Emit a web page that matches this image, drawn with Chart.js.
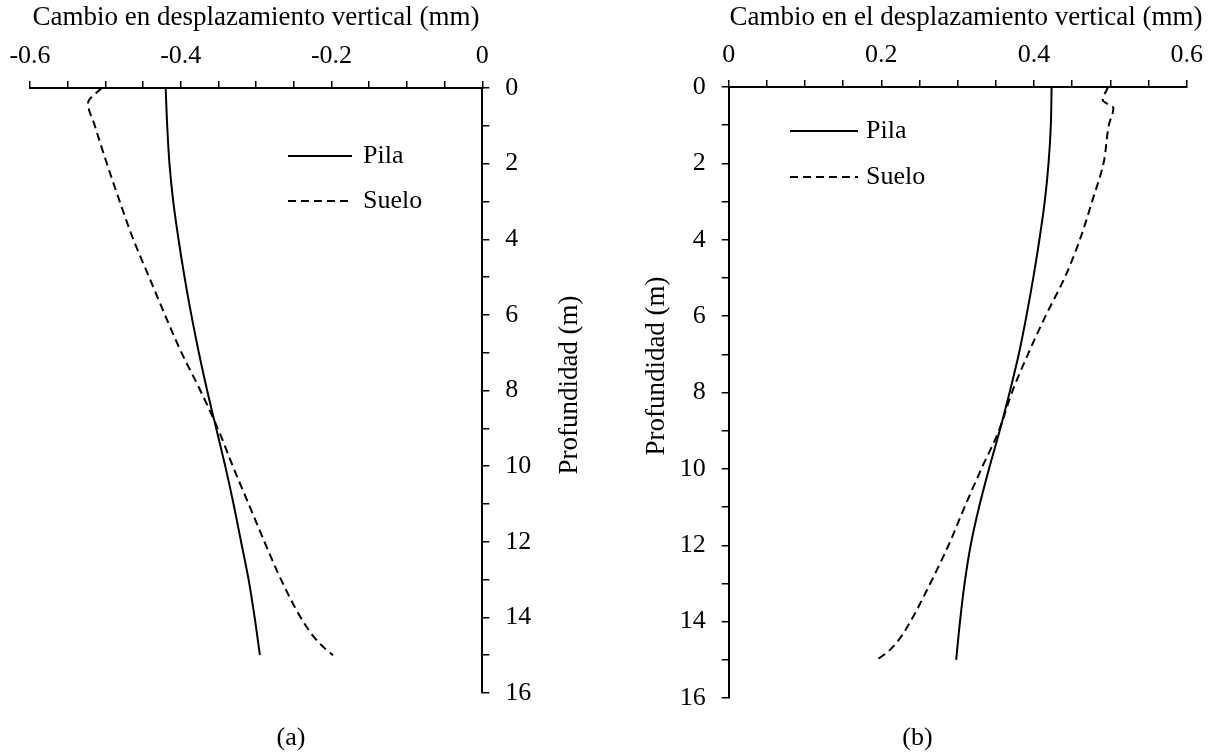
<!DOCTYPE html>
<html><head><meta charset="utf-8">
<script src="https://cdn.jsdelivr.net/npm/chart.js@4.4.1/dist/chart.umd.min.js"></script>
<style>
html,body{margin:0;padding:0;background:#fff;}
#wrap{position:relative;width:1212px;height:753px;overflow:hidden;}
.panel{position:absolute;top:0;width:606px;height:753px;}
</style></head><body>
<div id="wrap">
<div class="panel" style="left:0"><canvas id="ca" width="606" height="753"></canvas></div>
<div class="panel" style="left:606px"><canvas id="cb" width="606" height="753"></canvas></div>
</div>
<script>
// ---------- DATA ----------
const seriesNames = ['Pila', 'Suelo'];

// Panel (a)
const depthPilaA  = [0, 1, 2, 3, 4, 5, 6, 7, 8, 9, 10, 11, 12, 13, 14, 15];
const pilaA       = [-0.420, -0.418, -0.415, -0.410, -0.403, -0.395, -0.386, -0.376, -0.365, -0.353, -0.341, -0.330, -0.320, -0.310, -0.302, -0.295];
const depthSueloA = [0, 0.4, 1, 2, 3, 4, 5, 6, 7, 8, 9, 10, 11, 12, 13, 14, 14.5, 14.8, 15];
const sueloA      = [-0.505, -0.523, -0.514, -0.498, -0.481, -0.463, -0.442, -0.421, -0.399, -0.374, -0.351, -0.331, -0.310, -0.289, -0.267, -0.241, -0.224, -0.210, -0.198];

// Panel (b)
const depthPilaB  = [0, 1, 2, 3, 4, 5, 6, 7, 8, 9, 10, 11, 12, 13, 14, 15];
const pilaB       = [0.423, 0.422, 0.419, 0.414, 0.407, 0.399, 0.390, 0.380, 0.368, 0.355, 0.341, 0.328, 0.317, 0.309, 0.303, 0.298];
const depthSueloB = [0, 0.35, 0.55, 1, 2, 3, 4, 5, 6, 7, 8, 9, 10, 11, 12, 13, 14, 14.5, 14.8, 15];
const sueloB      = [0.497, 0.490, 0.504, 0.498, 0.491, 0.476, 0.460, 0.440, 0.415, 0.392, 0.371, 0.354, 0.331, 0.309, 0.288, 0.264, 0.238, 0.222, 0.208, 0.194];

// Tick labels
const xTickLabelsA = ['-0.6', '-0.4', '-0.2', '0'];
const xTickLabelsB = ['0', '0.2', '0.4', '0.6'];
const yTickLabels  = ['0', '2', '4', '6', '8', '10', '12', '14', '16'];

// Titles
const xTitleA = 'Cambio en desplazamiento vertical (mm)';
const xTitleB = 'Cambio en el desplazamiento vertical (mm)';
const yTitle  = 'Profundidad (m)';
const panelLabels = ['(a)', '(b)'];

// ---------- STYLE ----------
const FF = "'Liberation Serif', 'Times New Roman', Times, serif";
const FS = 26;
const FT = 27;

function toPoints(xs, ys) { return xs.map((v, i) => ({ x: v, y: ys[i] })); }

function minorTicks(labels, parts) {
  const majors = labels.map(Number);
  const out = [];
  for (let i = 0; i < majors.length - 1; i++) {
    for (let k = 0; k < parts; k++) out.push(majors[i] + k * (majors[i + 1] - majors[i]) / parts);
  }
  out.push(majors[majors.length - 1]);
  return out;
}

const overlay = {
  id: 'overlay',
  afterDraw(chart, args, o) {
    const ctx = chart.ctx;
    ctx.save();
    ctx.fillStyle = '#000';
    ctx.font = FT + 'px ' + FF;
    // x axis title
    ctx.textAlign = 'center';
    ctx.textBaseline = 'middle';
    ctx.fillText(o.xTitle, o.xTitleX, o.xTitleY);
    // y axis title (reads bottom-to-top)
    ctx.save();
    ctx.translate(o.yTitleX, o.yTitleY);
    ctx.rotate(-Math.PI / 2);
    ctx.fillText(o.yTitle, 0, 0);
    ctx.restore();
    // legend
    ctx.font = FS + 'px ' + FF;
    chart.data.datasets.forEach((ds, i) => {
      const y = o.legendY[i];
      ctx.save();
      ctx.strokeStyle = ds.borderColor;
      ctx.lineWidth = ds.borderWidth;
      ctx.setLineDash(ds.borderDash || []);
      ctx.beginPath();
      ctx.moveTo(o.legendX0, y);
      ctx.lineTo(o.legendX1, y);
      ctx.stroke();
      ctx.restore();
      ctx.textAlign = 'left';
      ctx.textBaseline = 'middle';
      ctx.fillText(ds.label, o.legendTextX, y);
    });
    // panel label
    ctx.textAlign = 'center';
    ctx.textBaseline = 'middle';
    ctx.fillText(o.panelLabel, o.panelX, o.panelY);
    ctx.restore();
  }
};

function makePanel(canvasId, cfg) {
  const xTickVals = minorTicks(cfg.xLabels, 4);
  const yTickVals = minorTicks(yTickLabels, 2);
  const axisCommon = {
    grid: { drawOnChartArea: false, drawTicks: true, tickLength: 7, color: '#000', lineWidth: 1.5 },
    border: { display: true, color: '#000', width: 2 }
  };
  return new Chart(document.getElementById(canvasId), {
    type: 'scatter',
    data: {
      datasets: [
        { label: seriesNames[0], data: toPoints(cfg.pila, cfg.depthPila), showLine: true,
          borderColor: '#000', borderWidth: 2, pointRadius: 0, cubicInterpolationMode: 'monotone', fill: false },
        { label: seriesNames[1], data: toPoints(cfg.suelo, cfg.depthSuelo), showLine: true,
          borderColor: '#000', borderWidth: 2, borderDash: [8, 5], pointRadius: 0, cubicInterpolationMode: 'monotone', fill: false }
      ]
    },
    options: {
      indexAxis: 'y',
      responsive: false,
      animation: false,
      devicePixelRatio: 1,
      layout: { padding: cfg.padding },
      plugins: {
        legend: { display: false },
        tooltip: { enabled: false },
        overlay: cfg.overlay
      },
      scales: {
        x: Object.assign({}, axisCommon, {
          type: 'linear', position: 'top',
          min: Number(cfg.xLabels[0]), max: Number(cfg.xLabels[cfg.xLabels.length - 1]),
          afterBuildTicks: s => { s.ticks = xTickVals.map(v => ({ value: v })); },
          afterFit: s => { s.height = cfg.xBoxHeight; },
          ticks: {
            autoSkip: false, maxRotation: 0, minRotation: 0, padding: cfg.xTickPad,
            color: '#000', font: { family: FF, size: FS },
            callback: (v, i) => (i % 4 === 0 ? cfg.xLabels[i / 4] : '')
          },
          title: { display: false }
        }),
        y: Object.assign({}, axisCommon, {
          type: 'linear', position: cfg.yPos, reverse: true,
          min: 0, max: 16,
          afterBuildTicks: s => { s.ticks = yTickVals.map(v => ({ value: v })); },
          afterFit: s => { s.width = cfg.yBoxWidth; },
          ticks: {
            autoSkip: false, padding: 16,
            color: '#000', font: { family: FF, size: FS },
            callback: (v, i) => (i % 2 === 0 ? yTickLabels[i / 2] : '')
          },
          title: { display: false }
        })
      }
    },
    plugins: [overlay]
  });
}

makePanel('ca', {
  xLabels: xTickLabelsA,
  pila: pilaA, depthPila: depthPilaA, suelo: sueloA, depthSuelo: depthSueloA,
  yPos: 'right', yBoxWidth: 123.7, xBoxHeight: 88, xTickPad: 9,
  padding: { left: 30, right: 0, top: 0, bottom: 60 },
  overlay: { xTitle: xTitleA, xTitleX: 256, xTitleY: 18,
    yTitle: yTitle, yTitleX: 570, yTitleY: 385,
    legendX0: 288, legendX1: 352, legendTextX: 363, legendY: [156, 201],
    panelLabel: panelLabels[0], panelX: 291, panelY: 738 }
});

makePanel('cb', {
  xLabels: xTickLabelsB,
  pila: pilaB, depthPila: depthPilaB, suelo: sueloB, depthSuelo: depthSueloB,
  yPos: 'left', yBoxWidth: 122.7, xBoxHeight: 87, xTickPad: 9,
  padding: { left: 0, right: 25.3, top: 0, bottom: 55 },
  overlay: { xTitle: xTitleB, xTitleX: 360, xTitleY: 18,
    yTitle: yTitle, yTitleX: 51, yTitleY: 366,
    legendX0: 184, legendX1: 252, legendTextX: 260, legendY: [131, 177],
    panelLabel: panelLabels[1], panelX: 311.5, panelY: 738 }
});
</script>
</body></html>
